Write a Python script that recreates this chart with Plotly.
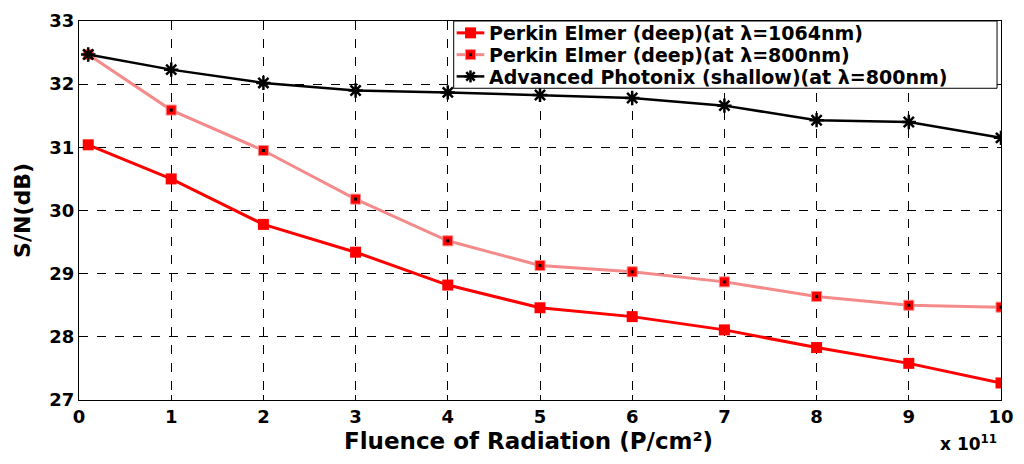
import plotly.graph_objects as go

x_vals = [0.1, 1, 2, 3, 4, 5, 6, 7, 8, 9, 10]
pe_1064 = [31.04, 30.50, 29.78, 29.34, 28.82, 28.46, 28.32, 28.11, 27.83, 27.58, 27.27]
pe_800 = [32.47, 31.59, 30.95, 30.18, 29.52, 29.13, 29.03, 28.87, 28.64, 28.50, 28.47]
ap_800 = [32.47, 32.23, 32.02, 31.90, 31.87, 31.83, 31.78, 31.66, 31.43, 31.40, 31.15]
names = ["Perkin Elmer (deep)(at λ=1064nm)", "Perkin Elmer (deep)(at λ=800nm)",
         "Advanced Photonix (shallow)(at λ=800nm)"]
x_ticks = list(range(0, 11))
y_ticks = list(range(27, 34))

font = "DejaVu Sans, Verdana, sans-serif"
RED, PINK, BLACK = "#ff0000", "#f58a8a", "black"

styles = [
    dict(line=dict(color=RED, width=3),
         marker=dict(symbol="square", size=11, color=RED)),
    dict(line=dict(color=PINK, width=3),
         marker=dict(symbol="square", size=10, color=RED, line=dict(color=PINK, width=1))),
    dict(line=dict(color=BLACK, width=2.5),
         marker=dict(symbol="asterisk-open", size=12, color=BLACK,
                     line=dict(color=BLACK, width=2.5))),
]
series = [pe_1064, pe_800, ap_800]

fig = go.Figure()
for i, ys in enumerate(series):
    fig.add_trace(go.Scatter(x=x_vals, y=ys, name=names[i], mode="lines+markers",
                             showlegend=False, **styles[i]))
    if i == 1:
        fig.add_trace(go.Scatter(x=x_vals, y=ys, showlegend=False, mode="markers",
                                 hoverinfo="skip",
                                 marker=dict(symbol="square", size=3, color=BLACK)))

# ---- manual legend (box, samples, labels) in plot-area fractions ----
lx0, lx1, ly0, ly1 = 0.4064, 0.9957, 0.8225, 1.0
rows = [0.9687, 0.9112, 0.8538]
sx0, sxm, sx1, tx = 0.4096, 0.4246, 0.4396, 0.4428
fig.add_shape(type="rect", xref="paper", yref="paper", x0=lx0, x1=lx1, y0=ly0, y1=ly1,
              fillcolor="white", line=dict(color=BLACK, width=1), layer="above")


def pix_shape(kind, xa, ya, x0, y0, x1, y1, **kw):
    fig.add_shape(type=kind, xref="paper", yref="paper", xsizemode="pixel",
                  ysizemode="pixel", xanchor=xa, yanchor=ya,
                  x0=x0, x1=x1, y0=y0, y1=y1, layer="above", **kw)


for i, r in enumerate(rows):
    st = styles[i]
    fig.add_shape(type="line", xref="paper", yref="paper", x0=sx0, x1=sx1, y0=r, y1=r,
                  line=dict(color=st["line"]["color"], width=st["line"]["width"]),
                  layer="above")
    if i == 0:
        pix_shape("rect", sxm, r, -5.5, -5.5, 5.5, 5.5, fillcolor=RED, line=dict(width=0))
    elif i == 1:
        pix_shape("rect", sxm, r, -5, -5, 5, 5, fillcolor=RED, line=dict(color=PINK, width=1))
        pix_shape("rect", sxm, r, -1.5, -1.5, 1.5, 1.5, fillcolor=BLACK, line=dict(width=0))
    else:
        for (a, b, c, d) in [(-6, 0, 6, 0), (0, -6, 0, 6), (-4.2, -4.2, 4.2, 4.2),
                             (-4.2, 4.2, 4.2, -4.2)]:
            pix_shape("line", sxm, r, a, b, c, d, line=dict(color=BLACK, width=2.5))
    fig.add_annotation(text=names[i], xref="paper", yref="paper", x=tx, y=r,
                       xanchor="left", yanchor="middle", showarrow=False, height=21,
                       font=dict(family=font, size=19, color=BLACK, weight="bold"))

axis_common = dict(showline=True, linecolor=BLACK, linewidth=1, mirror=True,
                   showgrid=True, gridcolor=BLACK, griddash="dash", gridwidth=1,
                   ticks="inside", ticklen=5, tickcolor=BLACK, zeroline=False,
                   ticklabeloverflow="allow",
                   tickfont=dict(family=font, size=18, color=BLACK, weight="bold"))

fig.update_xaxes(range=[0, 10], tickvals=x_ticks, ticktext=[str(t) for t in x_ticks],
                 **axis_common)
fig.update_yaxes(range=[27, 33], tickvals=y_ticks, ticktext=[str(t) for t in y_ticks],
                 title=dict(text="S/N(dB)", standoff=12,
                            font=dict(family=font, size=22, color=BLACK, weight="bold")),
                 **axis_common)

fig.add_annotation(text="Fluence of Radiation (P/cm²)", xref="paper", yref="paper",
                   x=0.487, y=-0.108, xanchor="center", yanchor="middle", showarrow=False,
                   height=24,
                   font=dict(family=font, size=23, color=BLACK, weight="bold"))
fig.add_annotation(text="x 10<sup>11</sup>", xref="paper", yref="paper", x=0.998, y=-0.078,
                   xanchor="right", yanchor="top", showarrow=False,
                   font=dict(family=font, size=17, color=BLACK, weight="bold"))

fig.update_layout(
    width=1024, height=464,
    margin=dict(l=79, r=10, t=17, b=64),
    paper_bgcolor="white", plot_bgcolor="white",
    showlegend=False,
)

fig.write_html("out.html")
